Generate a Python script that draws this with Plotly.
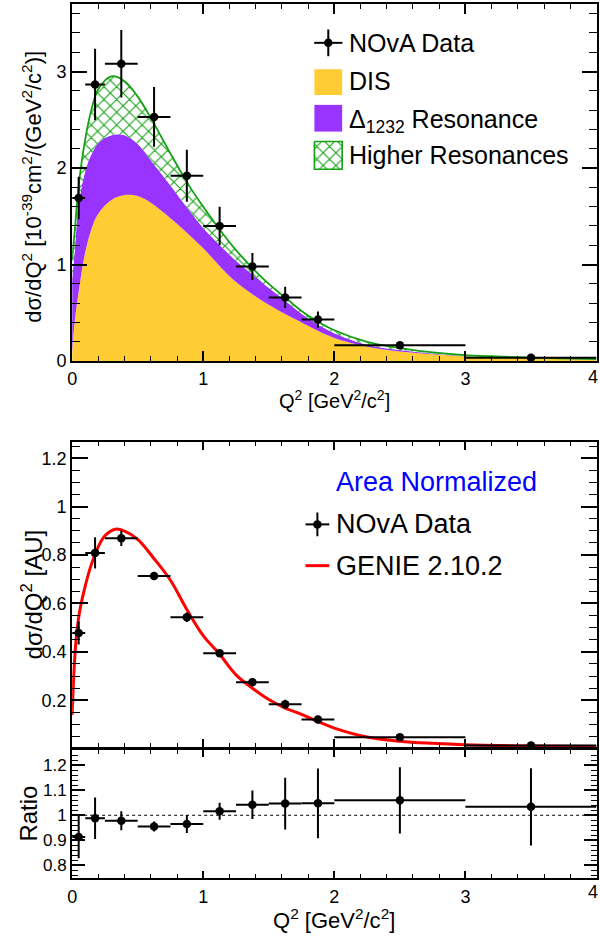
import plotly.graph_objects as go

# ---------------- data ----------------
q_centers = [0.05, 0.175, 0.375, 0.625, 0.875, 1.125, 1.375, 1.625, 1.875, 2.5, 3.5]
q_halfwidth = [0.05, 0.075, 0.125, 0.125, 0.125, 0.125, 0.125, 0.125, 0.125, 0.5, 0.5]
x_tick_vals = [0, 1, 2, 3]
x_last_tick = "4"

xsec_data = [1.69, 2.865, 3.08, 2.53, 1.92, 1.40, 0.98, 0.66, 0.43, 0.164, 0.034]
xsec_err = [0.22, 0.37, 0.35, 0.31, 0.27, 0.20, 0.14, 0.11, 0.085, 0.03, 0.01]

q_model = [0, 0.02, 0.05, 0.1, 0.15, 0.2, 0.3, 0.4, 0.5, 0.6, 0.75, 0.9, 1.0, 1.15,
           1.25, 1.4, 1.5, 1.65, 1.75, 1.85, 2.0, 2.25, 2.5, 2.75, 3.0, 3.5, 4.0]
dis_model = [0.08, 0.42, 0.72, 1.13, 1.38, 1.53, 1.67, 1.72, 1.71, 1.64, 1.48, 1.30, 1.17, 0.95,
             0.82, 0.67, 0.585, 0.47, 0.40, 0.33, 0.24, 0.15, 0.10, 0.07, 0.05, 0.03, 0.018]
delta_model = [0.77, 0.73, 0.90, 0.84, 0.77, 0.73, 0.67, 0.62, 0.54, 0.44, 0.34, 0.25, 0.21, 0.22,
               0.22, 0.20, 0.175, 0.13, 0.09, 0.07, 0.05, 0.02, 0.015, 0.008, 0.004, 0.002, 0.001]
higher_model = [0.20, 0.20, 0.20, 0.33, 0.47, 0.56, 0.61, 0.56, 0.49, 0.44, 0.33, 0.25, 0.22, 0.15,
                0.11, 0.06, 0.04, 0.03, 0.03, 0.03, 0.03, 0.03, 0.02, 0.012, 0.008, 0.004, 0.002]

norm_data = [0.478, 0.809, 0.869, 0.713, 0.543, 0.394, 0.275, 0.184, 0.121, 0.047, 0.013]
norm_err = [0.048, 0.065, 0.032, 0.015, 0.02, 0.013, 0.015, 0.018, 0.015, 0.006, 0.003]

q_genie = [0, 0.015, 0.03, 0.055, 0.09, 0.14, 0.2, 0.25, 0.33, 0.4, 0.5, 0.625, 0.75, 0.875, 1.0,
           1.125, 1.25, 1.375, 1.5, 1.625, 1.75, 1.875, 2.0, 2.25, 2.5, 2.75, 3.0, 3.5, 4.0]
genie_norm = [0.139, 0.33, 0.45, 0.56, 0.65, 0.75, 0.835, 0.88, 0.907, 0.899, 0.865, 0.785, 0.696,
              0.575, 0.467, 0.39, 0.305, 0.25, 0.203, 0.168, 0.142, 0.112, 0.085, 0.048, 0.031,
              0.022, 0.016, 0.011, 0.009]

ratio_vals = [0.913, 0.988, 0.978, 0.955, 0.965, 1.016, 1.042, 1.047, 1.048, 1.060, 1.034]
ratio_err = [0.085, 0.083, 0.038, 0.02, 0.036, 0.034, 0.057, 0.104, 0.14, 0.133, 0.155]

# ---------------- styling ----------------
W, H = 600, 943
FONT = "Liberation Sans, Arial, Helvetica, sans-serif"
YELLOW = "#FFCC33"
PURPLE = "#9933FF"
GREEN = "#13A013"
HATCH = dict(shape="x", fgcolor=GREEN, bgcolor="white", size=9, solidity=0.22, fgopacity=1)

def px(x):
    return x / W

def py(y):
    return 1 - y / H

XDOM = [px(67.7), px(596.5)]

fig = go.Figure()

# ---- top panel: stacked model ----
fig.add_trace(go.Scatter(x=q_model, y=dis_model, stackgroup="m", mode="lines",
                         line=dict(width=0, shape="spline", color=YELLOW), fillcolor=YELLOW,
                         xaxis="x", yaxis="y", showlegend=False))
fig.add_trace(go.Scatter(x=q_model, y=delta_model, stackgroup="m", mode="lines",
                         line=dict(width=0, shape="spline", color=PURPLE), fillcolor=PURPLE,
                         xaxis="x", yaxis="y", showlegend=False))
fig.add_trace(go.Scatter(x=q_model, y=higher_model, stackgroup="m", mode="lines",
                         line=dict(width=1.8, shape="spline", color=GREEN), fillcolor=GREEN,
                         fillpattern=HATCH,
                         xaxis="x", yaxis="y", showlegend=False))

def data_trace(y, ey, xa, ya):
    return go.Scatter(x=q_centers, y=y, mode="markers",
                      marker=dict(color="black", size=8.5),
                      error_x=dict(type="data", array=q_halfwidth, width=0, thickness=2, color="black"),
                      error_y=dict(type="data", array=ey, width=0, thickness=2, color="black"),
                      xaxis=xa, yaxis=ya, showlegend=False)

fig.add_trace(data_trace(xsec_data, xsec_err, "x", "y"))

# ---- middle panel ----
fig.add_trace(go.Scatter(x=q_genie, y=genie_norm, mode="lines",
                         line=dict(color="#FF0000", width=3, shape="spline"),
                         xaxis="x2", yaxis="y2", showlegend=False))
fig.add_trace(data_trace(norm_data, norm_err, "x2", "y2"))

# ---- ratio panel ----
fig.add_trace(data_trace(ratio_vals, ratio_err, "x3", "y3"))

# ---- legend symbols (pixel overlay axes) ----
def box(x0, x1, y0, y1):
    return [x0, x1, x1, x0, x0], [y0, y0, y1, y1, y0]

bx, by = box(312, 340, 70, 96)
fig.add_trace(go.Scatter(x=bx, y=by, fill="toself", fillcolor=YELLOW, mode="lines",
                         line=dict(width=0, color=YELLOW), xaxis="x4", yaxis="y4", showlegend=False))
bx, by = box(312, 340, 106, 133)
fig.add_trace(go.Scatter(x=bx, y=by, fill="toself", fillcolor=PURPLE, mode="lines",
                         line=dict(width=0, color=PURPLE), xaxis="x4", yaxis="y4", showlegend=False))
bx, by = box(312, 340, 143, 171)
fig.add_trace(go.Scatter(x=bx, y=by, fill="toself", fillcolor=GREEN, mode="lines",
                         fillpattern=HATCH,
                         line=dict(width=1.6, color=GREEN), xaxis="x4", yaxis="y4", showlegend=False))
for cx, cy, hx, hy in [(326, 43.3, 14.2, 13.5), (315, 530, 12, 12)]:
    fig.add_trace(go.Scatter(x=[cx], y=[cy], mode="markers", marker=dict(color="black", size=8.5),
                             error_x=dict(type="constant", value=hx, width=0, thickness=2, color="black"),
                             error_y=dict(type="constant", value=hy, width=0, thickness=2, color="black"),
                             xaxis="x4", yaxis="y4", showlegend=False))
fig.add_trace(go.Scatter(x=[303, 327], y=[571.7, 571.7], mode="lines",
                         line=dict(color="#FF0000", width=3), xaxis="x4", yaxis="y4", showlegend=False))

# ---------------- axes ----------------
def xax(domain, anchor, labels, ticklen, minorlen, fontsize=18, standoff=None):
    d = dict(domain=domain, anchor=anchor, range=[0, 4], tickvals=x_tick_vals,
             ticks="inside", ticklen=ticklen, tickwidth=1.5, tickcolor="black",
             minor=dict(dtick=0.2, tick0=0, ticklen=minorlen, tickwidth=1.2, tickcolor="black", ticks="inside"),
             mirror="allticks", showline=True, linewidth=2, linecolor="black",
             showgrid=False, zeroline=False, showticklabels=labels,
             tickfont=dict(family=FONT, size=fontsize, color="black"))
    if standoff is not None:
        d["ticklabelstandoff"] = standoff
    return d

def yax(domain, anchor, rng, dtick, minor_dtick, ticklen, minorlen, tick0=0, fontsize=18):
    return dict(domain=domain, anchor=anchor, range=rng, dtick=dtick, tick0=tick0,
                ticks="inside", ticklen=ticklen, tickwidth=1.5, tickcolor="black",
                minor=dict(dtick=minor_dtick, ticklen=minorlen, tickwidth=1.2, tickcolor="black", ticks="inside"),
                mirror="allticks", showline=True, linewidth=2, linecolor="black",
                showgrid=False, zeroline=False,
                tickfont=dict(family=FONT, size=fontsize, color="black"))

fig.update_layout(
    width=W, height=H,
    margin=dict(l=0, r=0, t=0, b=0),
    paper_bgcolor="white", plot_bgcolor="rgba(0,0,0,0)",
    font=dict(family=FONT, color="black"),
    xaxis=xax(XDOM, "y", True, 10, 5),
    yaxis=yax([py(365), py(4)], "x", [0, 3.70], 1, 0.2, 15, 8),
    xaxis2=xax(XDOM, "y2", False, 8, 4),
    yaxis2=yax([py(755.5), py(447)], "x2", [0.005, 1.266], 0.2, 0.05, 16, 8),
    xaxis3=xax(XDOM, "y3", True, 7, 4, standoff=2),
    yaxis3=yax([py(887), py(758.5)], "x3", [0.75, 1.26], 0.1, 0.02, 13, 6, fontsize=17),
    xaxis4=dict(domain=[0, 1], anchor="y4", range=[0, W], visible=False, fixedrange=True),
    yaxis4=dict(domain=[0, 1], anchor="x4", range=[H, 0], visible=False, fixedrange=True),
    shapes=[dict(type="line", xref="x3", yref="y3", x0=0, x1=4, y0=1, y1=1,
                 line=dict(color="black", width=1, dash="3px,3px"))],
)

def ann(text, x, y, size, angle=0, xanchor="center", color="black"):
    return dict(text=text, x=px(x), y=py(y), xref="paper", yref="paper", showarrow=False,
                xanchor=xanchor, yanchor="middle", textangle=angle,
                font=dict(family=FONT, size=size, color=color))

fig.update_layout(annotations=[
    ann("dσ/dQ<sup>2</sup> [10<sup>-39</sup>cm<sup>2</sup>/(GeV<sup>2</sup>/c<sup>2</sup>)]", 27, 189, 22, -90),
    ann("Q<sup>2</sup> [GeV<sup>2</sup>/c<sup>2</sup>]", 332, 404, 20),
    ann("dσ/dQ<sup>2</sup> [AU]", 27, 601, 24, -90),
    ann("Ratio", 24, 822.5, 24, -90),
    ann("Q<sup>2</sup> [GeV<sup>2</sup>/c<sup>2</sup>]", 332, 929, 22),
    ann(x_last_tick, 600, 381.5, 18, xanchor="right"),
    ann(x_last_tick, 600, 902, 18, xanchor="right"),
    ann("NOvA Data", 345, 43.3, 25, xanchor="left"),
    ann("DIS", 345, 81.7, 25, xanchor="left"),
    ann("Δ<sub>1232</sub> Resonance", 345, 122, 25, xanchor="left"),
    ann("Higher Resonances", 345, 156.7, 25, xanchor="left"),
    ann("Area Normalized", 332, 486.7, 27, xanchor="left", color="#0000FF"),
    ann("NOvA Data", 332, 530, 27, xanchor="left"),
    ann("GENIE 2.10.2", 332, 571.7, 27, xanchor="left"),
])

fig.write_html("out.html")
